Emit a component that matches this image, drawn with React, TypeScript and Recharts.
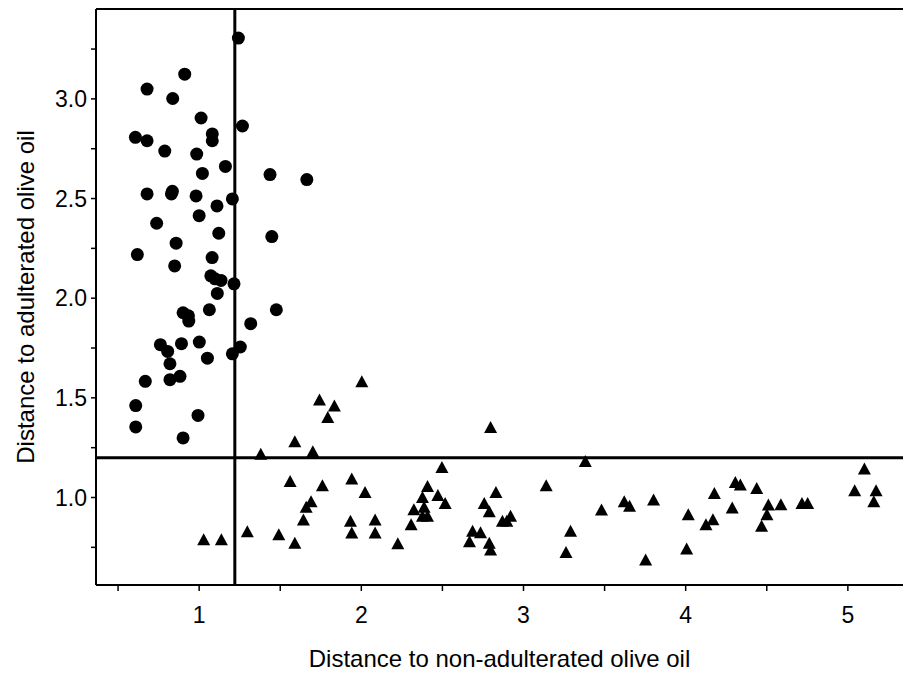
import { ReferenceLine, Scatter, ScatterChart, XAxis, YAxis } from "recharts";

// non-adulterated samples (filled circles)
const pureX = [
  1.242, 0.911, 0.679, 0.837, 1.012, 1.267, 0.607, 0.679, 1.081, 1.081,
  0.788, 0.985, 1.162, 1.02, 1.437, 1.664, 0.679, 0.835, 0.829, 0.981,
  1.205, 1.11, 1.0, 0.738, 1.121, 1.448, 0.858, 0.619, 0.849, 1.08,
  1.072, 1.098, 1.135, 1.215, 1.112, 1.063, 1.476, 0.901, 0.934, 0.936,
  1.318, 0.761, 0.806, 0.891, 1.001, 1.051, 1.205, 1.254, 0.82, 0.82,
  0.882, 0.668, 0.609, 0.609, 0.993, 0.901,
];
const pureY = [
  3.305, 3.124, 3.049, 3.002, 2.904, 2.864, 2.807, 2.79, 2.824, 2.79,
  2.738, 2.723, 2.661, 2.626, 2.62, 2.595, 2.523, 2.536, 2.523, 2.513,
  2.498, 2.463, 2.414, 2.376, 2.326, 2.309, 2.276, 2.219, 2.162, 2.204,
  2.112, 2.097, 2.089, 2.072, 2.024, 1.942, 1.942, 1.927, 1.912, 1.885,
  1.872, 1.767, 1.733, 1.772, 1.78, 1.699, 1.721, 1.755, 1.671, 1.591,
  1.608, 1.583, 1.461, 1.354, 1.412, 1.299,
];

// adulterated samples (filled triangles)
const adultX = [
  1.028, 1.137, 1.297, 1.491, 1.59, 1.561, 1.38, 1.59,
  2.003, 1.742, 1.834, 1.793, 2.797, 1.701, 2.497, 3.381, 1.941, 1.76,
  2.408, 3.14, 2.023, 2.83, 2.377, 2.472, 1.69, 1.66, 2.517, 2.758,
  2.324, 2.387, 2.789, 3.481, 1.643, 1.933, 2.085, 2.377, 2.408, 2.87,
  2.897, 2.92, 2.307, 1.941, 2.085, 2.686, 2.735, 3.29, 2.225, 2.667,
  2.789, 2.797, 3.262,
  5.102, 4.306, 4.337, 4.438, 4.177, 5.042, 5.174, 3.802, 3.621, 3.654,
  4.287, 4.51, 4.587, 4.717, 4.752, 5.16, 4.016, 4.501, 4.168, 4.125,
  4.468, 4.006, 3.753,
];
const adultY = [
  0.79, 0.79, 0.831, 0.816, 0.773, 1.083, 1.22, 1.282,
  1.583, 1.492, 1.462, 1.404, 1.354, 1.232, 1.153, 1.183, 1.095, 1.062,
  1.058, 1.062, 1.028, 1.028, 1.003, 1.012, 0.981, 0.953, 0.973, 0.973,
  0.941, 0.953, 0.931, 0.94, 0.89, 0.883, 0.89, 0.908, 0.908, 0.883,
  0.883, 0.908, 0.866, 0.825, 0.825, 0.833, 0.826, 0.833, 0.77, 0.781,
  0.773, 0.739, 0.727,
  1.145, 1.078, 1.065, 1.048, 1.023, 1.037, 1.037, 0.99, 0.981, 0.958,
  0.95, 0.965, 0.966, 0.973, 0.973, 0.981, 0.916, 0.916, 0.891, 0.866,
  0.858, 0.744, 0.689,
];

const xTicks = [0.5, 1, 1.5, 2, 2.5, 3, 3.5, 4, 4.5, 5];
const yTicks = [0.75, 1, 1.25, 1.5, 1.75, 2, 2.25, 2.5, 2.75, 3, 3.25];

const xDomain: [number, number] = [0.364, 5.34];
const yDomain: [number, number] = [0.561, 3.451];
const xCut = 1.22;
const yCut = 1.2;

const pureData = pureX.map((x, i) => ({ x, y: pureY[i] }));
const adultData = adultX.map((x, i) => ({ x, y: adultY[i] }));

const FONT = "'Liberation Sans', Arial, sans-serif";

function Dot(props: any) {
  return <circle cx={props.cx} cy={props.cy} r={6.5} fill="#000" />;
}

function Tri(props: any) {
  const { cx, cy } = props;
  const w = 6.5;
  const h = 6;
  return <path d={`M${cx},${cy - h}L${cx + w},${cy + h}L${cx - w},${cy + h}Z`} fill="#000" />;
}

export default function App() {
  return (
    <div style={{ position: "absolute", left: 0, top: 0, fontFamily: FONT }}>
      <ScatterChart width={903} height={673} margin={{ top: 9, right: 0, bottom: 0, left: 0 }}>
        <XAxis
          type="number"
          dataKey="x"
          domain={xDomain}
          allowDataOverflow
          ticks={xTicks}
          interval={0}
          tickFormatter={(v: number) => (Number.isInteger(v) ? String(v) : "")}
          height={88}
          tickSize={6}
          tickMargin={16}
          axisLine={{ stroke: "#000", strokeWidth: 2 }}
          tickLine={{ stroke: "#000", strokeWidth: 1.5 }}
          tick={{ fill: "#000", fontSize: 23, fontFamily: FONT }}
          label={{
            value: "Distance to non-adulterated olive oil",
            position: "insideBottom",
            offset: 6,
            fill: "#000",
            fontSize: 24,
            fontFamily: FONT,
          }}
        />
        <YAxis
          type="number"
          dataKey="y"
          domain={yDomain}
          allowDataOverflow
          ticks={yTicks}
          interval={0}
          tickFormatter={(v: number) => ((v * 2) % 1 === 0 ? v.toFixed(1) : "")}
          width={96}
          tickSize={5}
          tickMargin={4}
          axisLine={{ stroke: "#000", strokeWidth: 2 }}
          tickLine={{ stroke: "#000", strokeWidth: 1.5 }}
          tick={{ fill: "#000", fontSize: 23, fontFamily: FONT }}
          label={{
            value: "Distance to adulterated olive oil",
            angle: -90,
            position: "insideLeft",
            offset: 25,
            fill: "#000",
            fontSize: 24,
            fontFamily: FONT,
            style: { textAnchor: "middle" },
          }}
        />
        <ReferenceLine y={yDomain[1]} stroke="#000" strokeWidth={2} />
        <ReferenceLine x={xCut} stroke="#000" strokeWidth={3} />
        <ReferenceLine y={yCut} stroke="#000" strokeWidth={3} />
        <Scatter data={pureData} shape={Dot} isAnimationActive={false} />
        <Scatter data={adultData} shape={Tri} isAnimationActive={false} />
      </ScatterChart>
    </div>
  );
}
